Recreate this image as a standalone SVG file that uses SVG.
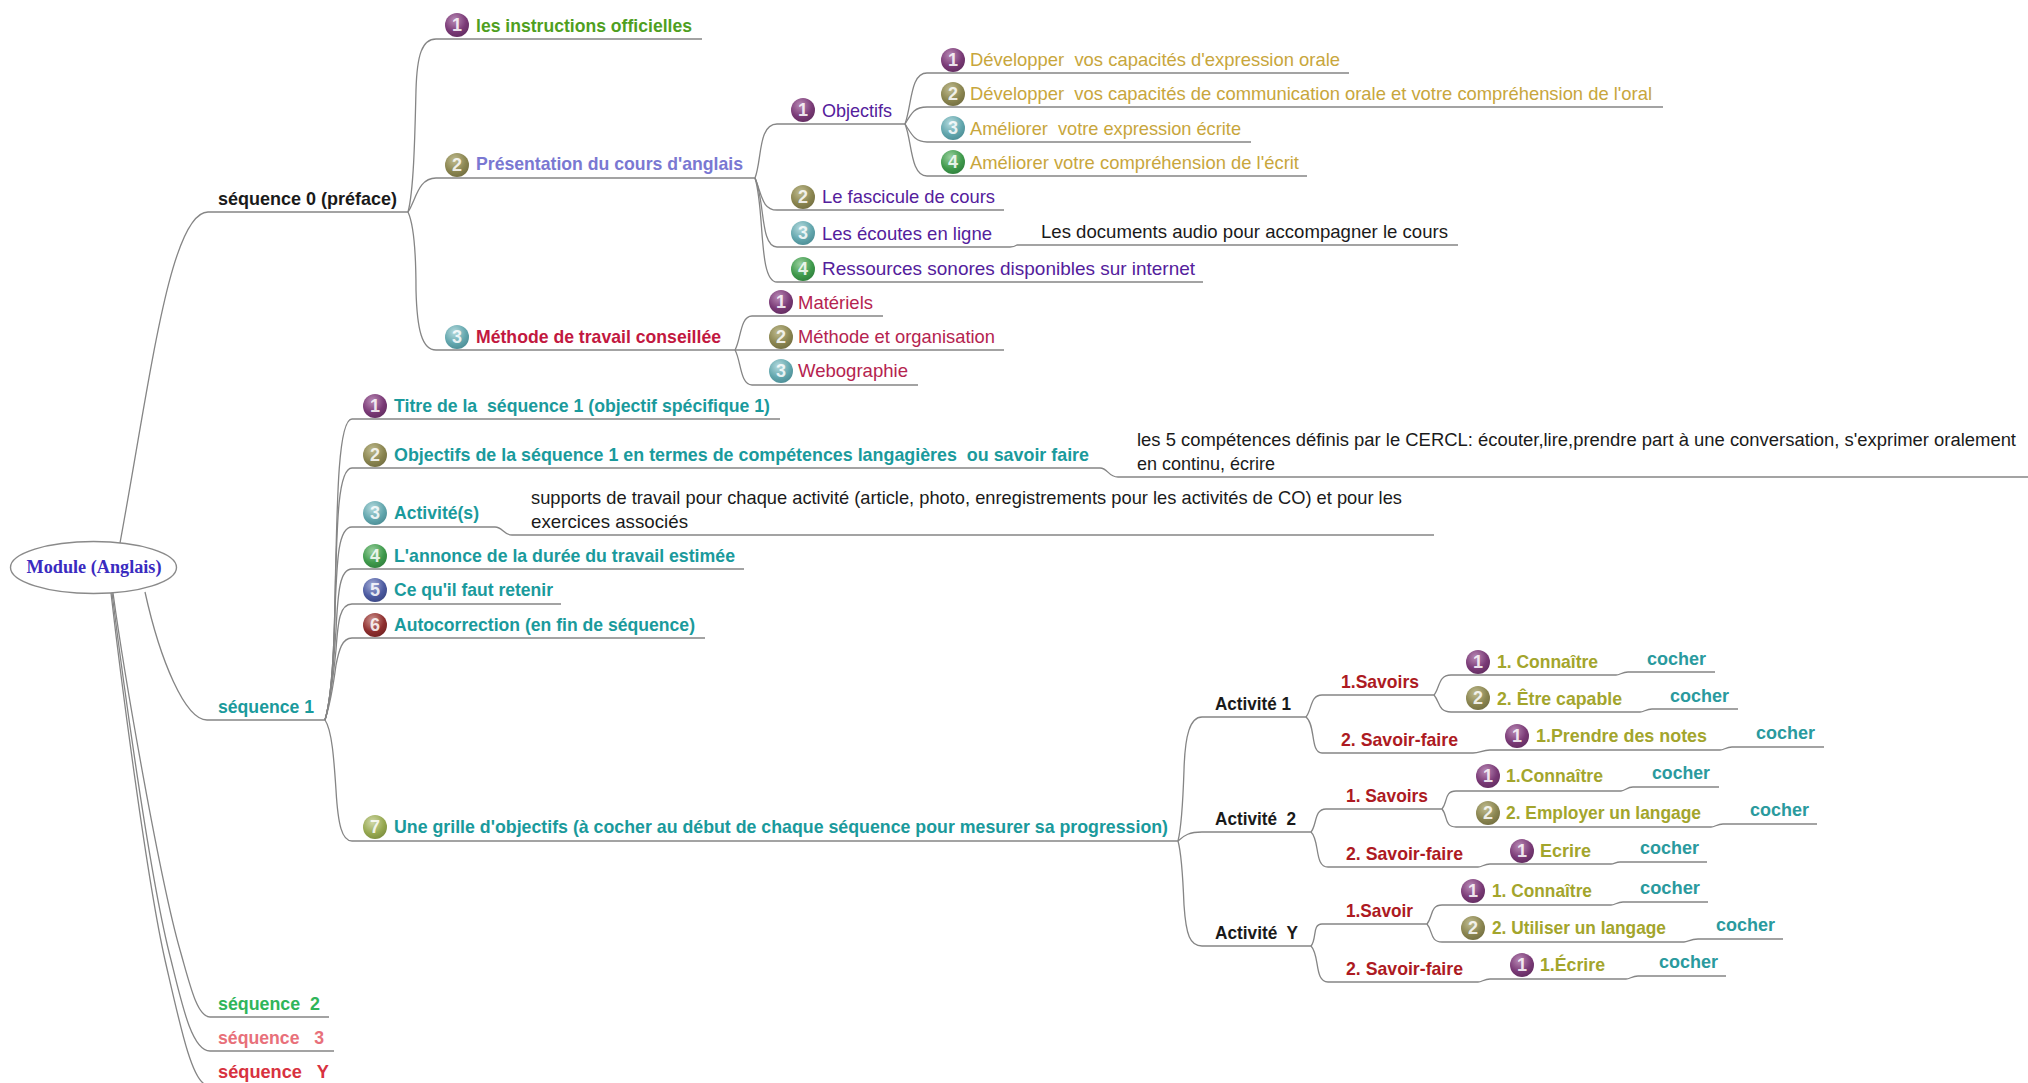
<svg xmlns="http://www.w3.org/2000/svg" width="2028" height="1083" viewBox="0 0 2028 1083">
<style>
text{font-family:"Liberation Sans",Arial,sans-serif;font-size:19px}
.b{font-weight:bold}
.conn path{fill:none;stroke:#858585;stroke-width:1.3}
.d{fill:#fff;font-size:18px;text-anchor:middle;font-weight:bold;fill-opacity:.85}
.c1{fill:url(#g1)}.c2{fill:url(#g2)}.c3{fill:url(#g3)}.c4{fill:url(#g4)}.c5{fill:url(#g5)}.c6{fill:url(#g6)}.c7{fill:url(#g7)}
.gold{fill:#c8a63c}.purp{fill:#54209c}.rose{fill:#b5234f}.teal{fill:#1a9a9c;font-weight:bold}.olive{fill:#a3a52c;font-weight:bold}.red{fill:#ad1a22;font-weight:bold}.coch{fill:#2a9a9e;font-weight:bold}.blk{fill:#1a1a1a}
</style>
<defs>
<radialGradient id="g1" cx=".4" cy=".3" r=".8"><stop offset="0" stop-color="#b98ab5"/><stop offset=".6" stop-color="#7a3a76"/><stop offset="1" stop-color="#5e2a5c"/></radialGradient>
<radialGradient id="g2" cx=".4" cy=".3" r=".8"><stop offset="0" stop-color="#c0bc90"/><stop offset=".6" stop-color="#8a8550"/><stop offset="1" stop-color="#6e6a3e"/></radialGradient>
<radialGradient id="g3" cx=".4" cy=".3" r=".8"><stop offset="0" stop-color="#b5dadd"/><stop offset=".6" stop-color="#62a6ad"/><stop offset="1" stop-color="#478890"/></radialGradient>
<radialGradient id="g4" cx=".4" cy=".3" r=".8"><stop offset="0" stop-color="#9ad09f"/><stop offset=".6" stop-color="#3f9a4c"/><stop offset="1" stop-color="#2d7a3a"/></radialGradient>
<radialGradient id="g5" cx=".4" cy=".3" r=".8"><stop offset="0" stop-color="#a5aed8"/><stop offset=".6" stop-color="#4c5aa0"/><stop offset="1" stop-color="#37437e"/></radialGradient>
<radialGradient id="g6" cx=".4" cy=".3" r=".8"><stop offset="0" stop-color="#cf9590"/><stop offset=".6" stop-color="#8e2f2f"/><stop offset="1" stop-color="#6e2020"/></radialGradient>
<radialGradient id="g7" cx=".4" cy=".3" r=".8"><stop offset="0" stop-color="#d0d8a8"/><stop offset=".6" stop-color="#96a850"/><stop offset="1" stop-color="#76883a"/></radialGradient>
</defs>
<rect width="2028" height="1083" fill="#fff"/>
<g class="conn" id="connectors">
<path d="M120 543C150 380 170 212 208 212H408"/>
<path d="M145 592C160 660 185 720 207 720H325"/>
<path d="M113 593C125 680 160 880 180 950C190 985 197 1017 210 1017H329"/>
<path d="M112 593C123 680 150 880 171 960C182 1005 192 1051 210 1051H334"/>
<path d="M111 593C121 680 147 880 165 960C180 1025 192 1083 207 1085"/>
<path d="M408 212C414 190 415 130 416 90C417 55 422 39 436 39H702"/>
<path d="M408 212C416 200 418 178 436 178H755"/>
<path d="M408 212C414 225 416 250 416 290C417 330 422 350 436 350H735"/>
<path d="M755 178C762 160 758 124 777 124H905"/>
<path d="M755 178C762 195 762 210 777 210H1004"/>
<path d="M755 178C765 200 760 247 777 247H1010Q1014 247 1017 245H1458"/>
<path d="M755 178C765 210 758 282 777 282H1203"/>
<path d="M905 124C912 105 910 73 927 73H1349"/>
<path d="M905 124C912 112 915 107 927 107H1663"/>
<path d="M905 124C912 135 915 142 927 142H1251"/>
<path d="M905 124C912 140 910 176 927 176H1307"/>
<path d="M735 350C741 340 740 316 752 316H883"/>
<path d="M735 350H1004"/>
<path d="M735 350C741 360 740 385 752 385H918"/>
<path d="M325 720C331 700 334 660 335 600C337 500 338 419 352 419H780"/>
<path d="M325 720C331 700 334 660 335 600C337 520 338 468 352 468H1100C1108 468 1108 477 1118 477H2028"/>
<path d="M325 720C331 700 334 660 335 610C337 560 338 527 352 527H495C503 527 503 535 512 535H1434"/>
<path d="M325 720C331 700 334 660 336 630C338 590 340 569 352 569H744"/>
<path d="M325 720C331 700 334 670 336 650C338 620 340 604 352 604H561"/>
<path d="M325 720C330 705 334 680 336 665C339 650 342 638 352 638H705"/>
<path d="M325 720C332 730 334 760 336 790C338 825 342 841 352 841H1178"/>
<path d="M1178 841C1182 825 1183 800 1184 770C1185 735 1190 717 1202 717H1306"/>
<path d="M1178 841C1184 835 1190 832 1202 832H1311"/>
<path d="M1178 841C1182 855 1183 880 1184 905C1186 935 1190 946 1202 946H1311"/>
<path d="M1306 717C1312 710 1310 695 1322 695H1434"/>
<path d="M1306 717C1316 725 1310 753 1322 753H1473C1480 753 1482 750 1490 750H1720C1724 750 1726 747 1732 747H1824"/>
<path d="M1434 695C1440 688 1438 675 1451 675H1616C1620 675 1622 672 1628 672H1715"/>
<path d="M1434 695C1440 702 1438 712 1451 712H1640C1644 712 1646 709 1652 709H1738"/>
<path d="M1311 832C1317 825 1314 809 1326 809H1442"/>
<path d="M1311 832C1320 840 1314 867 1328 867H1478C1482 867 1484 864 1490 864H1611C1614 864 1616 862 1620 862H1707"/>
<path d="M1442 809C1448 802 1444 791 1456 791H1621C1625 791 1627 787 1633 787H1719"/>
<path d="M1442 809C1448 816 1444 827 1456 827H1711C1715 827 1717 824 1723 824H1817"/>
<path d="M1311 946C1317 939 1312 924 1322 924H1427"/>
<path d="M1311 946C1320 955 1314 982 1328 982H1478C1482 982 1484 979 1490 979H1626C1630 979 1632 976 1638 976H1726"/>
<path d="M1427 924C1433 917 1430 905 1442 905H1611C1615 905 1617 902 1623 902H1708"/>
<path d="M1427 924C1433 931 1430 942 1442 942H1684C1688 942 1690 939 1698 939H1783"/>
</g>
<g id="root"><ellipse cx="93.5" cy="567.5" rx="83" ry="26" fill="#fff" stroke="#8a8a8a" stroke-width="1.4"/><text x="26.5" y="573" fill="#3a2bc0" class="b" style="font-family:'Liberation Serif',serif;font-size:18px" textLength="135" lengthAdjust="spacingAndGlyphs">Module (Anglais)</text></g>
<g id="seq0"><text x="218" y="205" class="b blk" textLength="179" lengthAdjust="spacingAndGlyphs">séquence 0 (préface)</text></g>
<g id="seq1"><text x="218" y="713" class="teal" textLength="96" lengthAdjust="spacingAndGlyphs">séquence 1</text></g>
<g id="seq2"><text x="218" y="1010" class="b" fill="#2fb55a" textLength="102" lengthAdjust="spacingAndGlyphs" xml:space="preserve">séquence  2</text></g>
<g id="seq3"><text x="218" y="1044" class="b" fill="#e8707a" textLength="106" lengthAdjust="spacingAndGlyphs" xml:space="preserve">séquence   3</text></g>
<g id="seqY"><text x="218" y="1078" class="b" fill="#d8323f" textLength="111" lengthAdjust="spacingAndGlyphs" xml:space="preserve">séquence   Y</text></g>

<g id="s0-1"><circle cx="457" cy="25" r="12" class="c1"/><text x="457" y="31" class="d">1</text><text x="476" y="32" class="b" fill="#4f9f1f" textLength="216" lengthAdjust="spacingAndGlyphs">les instructions officielles</text></g>
<g id="s0-2"><circle cx="457" cy="165" r="12" class="c2"/><text x="457" y="171" class="d">2</text><text x="476" y="170" class="b" fill="#7a78d2" textLength="267" lengthAdjust="spacingAndGlyphs">Présentation du cours d'anglais</text></g>
<g id="s0-3"><circle cx="457" cy="337" r="12" class="c3"/><text x="457" y="343" class="d">3</text><text x="476" y="343" class="b" fill="#c2183f" textLength="245" lengthAdjust="spacingAndGlyphs">Méthode de travail conseillée</text></g>

<g id="p-1"><circle cx="803" cy="110" r="12" class="c1"/><text x="803" y="116" class="d">1</text><text x="822" y="117" class="purp" textLength="70" lengthAdjust="spacingAndGlyphs">Objectifs</text></g>
<g id="p-2"><circle cx="803" cy="197" r="12" class="c2"/><text x="803" y="203" class="d">2</text><text x="822" y="203" class="purp" textLength="173" lengthAdjust="spacingAndGlyphs">Le fascicule de cours</text></g>
<g id="p-3"><circle cx="803" cy="233" r="12" class="c3"/><text x="803" y="239" class="d">3</text><text x="822" y="240" class="purp" textLength="170" lengthAdjust="spacingAndGlyphs">Les écoutes en ligne</text></g>
<g id="p-3a"><text x="1041" y="238" class="blk" textLength="407" lengthAdjust="spacingAndGlyphs">Les documents audio pour accompagner le cours</text></g>
<g id="p-4"><circle cx="803" cy="269" r="12" class="c4"/><text x="803" y="275" class="d">4</text><text x="822" y="275" class="purp" textLength="373" lengthAdjust="spacingAndGlyphs">Ressources sonores disponibles sur internet</text></g>

<g id="o-1"><circle cx="953" cy="60" r="12" class="c1"/><text x="953" y="66" class="d">1</text><text x="970" y="66" class="gold" textLength="370" lengthAdjust="spacingAndGlyphs" xml:space="preserve">Développer  vos capacités d'expression orale</text></g>
<g id="o-2"><circle cx="953" cy="94" r="12" class="c2"/><text x="953" y="100" class="d">2</text><text x="970" y="100" class="gold" textLength="682" lengthAdjust="spacingAndGlyphs" xml:space="preserve">Développer  vos capacités de communication orale et votre compréhension de l'oral</text></g>
<g id="o-3"><circle cx="953" cy="128" r="12" class="c3"/><text x="953" y="134" class="d">3</text><text x="970" y="135" class="gold" textLength="271" lengthAdjust="spacingAndGlyphs" xml:space="preserve">Améliorer  votre expression écrite</text></g>
<g id="o-4"><circle cx="953" cy="162" r="12" class="c4"/><text x="953" y="168" class="d">4</text><text x="970" y="169" class="gold" textLength="329" lengthAdjust="spacingAndGlyphs">Améliorer votre compréhension de l'écrit</text></g>

<g id="m-1"><circle cx="781" cy="302" r="12" class="c1"/><text x="781" y="308" class="d">1</text><text x="798" y="309" class="rose" textLength="75" lengthAdjust="spacingAndGlyphs">Matériels</text></g>
<g id="m-2"><circle cx="781" cy="337" r="12" class="c2"/><text x="781" y="343" class="d">2</text><text x="798" y="343" class="rose" textLength="197" lengthAdjust="spacingAndGlyphs">Méthode et organisation</text></g>
<g id="m-3"><circle cx="781" cy="371" r="12" class="c3"/><text x="781" y="377" class="d">3</text><text x="798" y="377" class="rose" textLength="110" lengthAdjust="spacingAndGlyphs">Webographie</text></g>

<g id="t-1"><circle cx="375" cy="406" r="12" class="c1"/><text x="375" y="412" class="d">1</text><text x="394" y="412" class="teal" textLength="376" lengthAdjust="spacingAndGlyphs" xml:space="preserve">Titre de la  séquence 1 (objectif spécifique 1)</text></g>
<g id="t-2"><circle cx="375" cy="455" r="12" class="c2"/><text x="375" y="461" class="d">2</text><text x="394" y="461" class="teal" textLength="695" lengthAdjust="spacingAndGlyphs" xml:space="preserve">Objectifs de la séquence 1 en termes de compétences langagières  ou savoir faire</text></g>
<g id="t-2a"><text x="1137" y="446" class="blk" style="font-size:18px" textLength="879" lengthAdjust="spacingAndGlyphs">les 5 compétences définis par le CERCL: écouter,lire,prendre part à une conversation, s'exprimer oralement</text><text x="1137" y="470" class="blk" textLength="138" lengthAdjust="spacingAndGlyphs">en continu, écrire</text></g>
<g id="t-3"><circle cx="375" cy="513" r="12" class="c3"/><text x="375" y="519" class="d">3</text><text x="394" y="519" class="teal" textLength="85" lengthAdjust="spacingAndGlyphs">Activité(s)</text></g>
<g id="t-3a"><text x="531" y="504" class="blk" textLength="871" lengthAdjust="spacingAndGlyphs">supports de travail pour chaque activité (article, photo, enregistrements pour les activités de CO) et pour les</text><text x="531" y="528" class="blk" textLength="157" lengthAdjust="spacingAndGlyphs">exercices associés</text></g>
<g id="t-4"><circle cx="375" cy="556" r="12" class="c4"/><text x="375" y="562" class="d">4</text><text x="394" y="562" class="teal" textLength="341" lengthAdjust="spacingAndGlyphs">L'annonce de la durée du travail estimée</text></g>
<g id="t-5"><circle cx="375" cy="590" r="12" class="c5"/><text x="375" y="596" class="d">5</text><text x="394" y="596" class="teal" textLength="159" lengthAdjust="spacingAndGlyphs">Ce qu'il faut retenir</text></g>
<g id="t-6"><circle cx="375" cy="625" r="12" class="c6"/><text x="375" y="631" class="d">6</text><text x="394" y="631" class="teal" textLength="301" lengthAdjust="spacingAndGlyphs">Autocorrection (en fin de séquence)</text></g>
<g id="t-7"><circle cx="375" cy="827" r="12" class="c7"/><text x="375" y="833" class="d">7</text><text x="394" y="833" class="teal" textLength="774" lengthAdjust="spacingAndGlyphs">Une grille d'objectifs (à cocher au début de chaque séquence pour mesurer sa progression)</text></g>

<g id="a1"><text x="1215" y="710" class="b blk" textLength="76" lengthAdjust="spacingAndGlyphs">Activité 1</text></g>
<g id="a1-1"><text x="1341" y="688" class="red" textLength="78" lengthAdjust="spacingAndGlyphs">1.Savoirs</text></g>
<g id="a1-1-1"><circle cx="1478" cy="662" r="12" class="c1"/><text x="1478" y="668" class="d">1</text><text x="1497" y="668" class="olive" textLength="101" lengthAdjust="spacingAndGlyphs">1. Connaître</text></g>
<g id="a1-1-1c"><text x="1647" y="665" class="coch" textLength="59" lengthAdjust="spacingAndGlyphs">cocher</text></g>
<g id="a1-1-2"><circle cx="1478" cy="698" r="12" class="c2"/><text x="1478" y="704" class="d">2</text><text x="1497" y="705" class="olive" textLength="125" lengthAdjust="spacingAndGlyphs">2. Être capable</text></g>
<g id="a1-1-2c"><text x="1670" y="702" class="coch" textLength="59" lengthAdjust="spacingAndGlyphs">cocher</text></g>
<g id="a1-2"><text x="1341" y="746" class="red" textLength="117" lengthAdjust="spacingAndGlyphs">2. Savoir-faire</text></g>
<g id="a1-2-1"><circle cx="1517" cy="736" r="12" class="c1"/><text x="1517" y="742" class="d">1</text><text x="1536" y="742" class="olive" textLength="171" lengthAdjust="spacingAndGlyphs">1.Prendre des notes</text></g>
<g id="a1-2-1c"><text x="1756" y="739" class="coch" textLength="59" lengthAdjust="spacingAndGlyphs">cocher</text></g>

<g id="a2"><text x="1215" y="825" class="b blk" textLength="81" lengthAdjust="spacingAndGlyphs" xml:space="preserve">Activité  2</text></g>
<g id="a2-1"><text x="1346" y="802" class="red" textLength="82" lengthAdjust="spacingAndGlyphs">1. Savoirs</text></g>
<g id="a2-1-1"><circle cx="1488" cy="776" r="12" class="c1"/><text x="1488" y="782" class="d">1</text><text x="1506" y="782" class="olive" textLength="97" lengthAdjust="spacingAndGlyphs">1.Connaître</text></g>
<g id="a2-1-1c"><text x="1652" y="779" class="coch" textLength="58" lengthAdjust="spacingAndGlyphs">cocher</text></g>
<g id="a2-1-2"><circle cx="1488" cy="813" r="12" class="c2"/><text x="1488" y="819" class="d">2</text><text x="1506" y="819" class="olive" textLength="195" lengthAdjust="spacingAndGlyphs">2. Employer un langage</text></g>
<g id="a2-1-2c"><text x="1750" y="816" class="coch" textLength="59" lengthAdjust="spacingAndGlyphs">cocher</text></g>
<g id="a2-2"><text x="1346" y="860" class="red" textLength="117" lengthAdjust="spacingAndGlyphs">2. Savoir-faire</text></g>
<g id="a2-2-1"><circle cx="1522" cy="851" r="12" class="c1"/><text x="1522" y="857" class="d">1</text><text x="1540" y="857" class="olive" textLength="51" lengthAdjust="spacingAndGlyphs">Ecrire</text></g>
<g id="a2-2-1c"><text x="1640" y="854" class="coch" textLength="59" lengthAdjust="spacingAndGlyphs">cocher</text></g>

<g id="ay"><text x="1215" y="939" class="b blk" textLength="83" lengthAdjust="spacingAndGlyphs" xml:space="preserve">Activité  Y</text></g>
<g id="ay-1"><text x="1346" y="917" class="red" textLength="67" lengthAdjust="spacingAndGlyphs">1.Savoir</text></g>
<g id="ay-1-1"><circle cx="1473" cy="891" r="12" class="c1"/><text x="1473" y="897" class="d">1</text><text x="1492" y="897" class="olive" textLength="100" lengthAdjust="spacingAndGlyphs">1. Connaître</text></g>
<g id="ay-1-1c"><text x="1640" y="894" class="coch" textLength="60" lengthAdjust="spacingAndGlyphs">cocher</text></g>
<g id="ay-1-2"><circle cx="1473" cy="928" r="12" class="c2"/><text x="1473" y="934" class="d">2</text><text x="1492" y="934" class="olive" textLength="174" lengthAdjust="spacingAndGlyphs">2. Utiliser un langage</text></g>
<g id="ay-1-2c"><text x="1716" y="931" class="coch" textLength="59" lengthAdjust="spacingAndGlyphs">cocher</text></g>
<g id="ay-2"><text x="1346" y="975" class="red" textLength="117" lengthAdjust="spacingAndGlyphs">2. Savoir-faire</text></g>
<g id="ay-2-1"><circle cx="1522" cy="965" r="12" class="c1"/><text x="1522" y="971" class="d">1</text><text x="1540" y="971" class="olive" textLength="65" lengthAdjust="spacingAndGlyphs">1.Écrire</text></g>
<g id="ay-2-1c"><text x="1659" y="968" class="coch" textLength="59" lengthAdjust="spacingAndGlyphs">cocher</text></g>
</svg>
